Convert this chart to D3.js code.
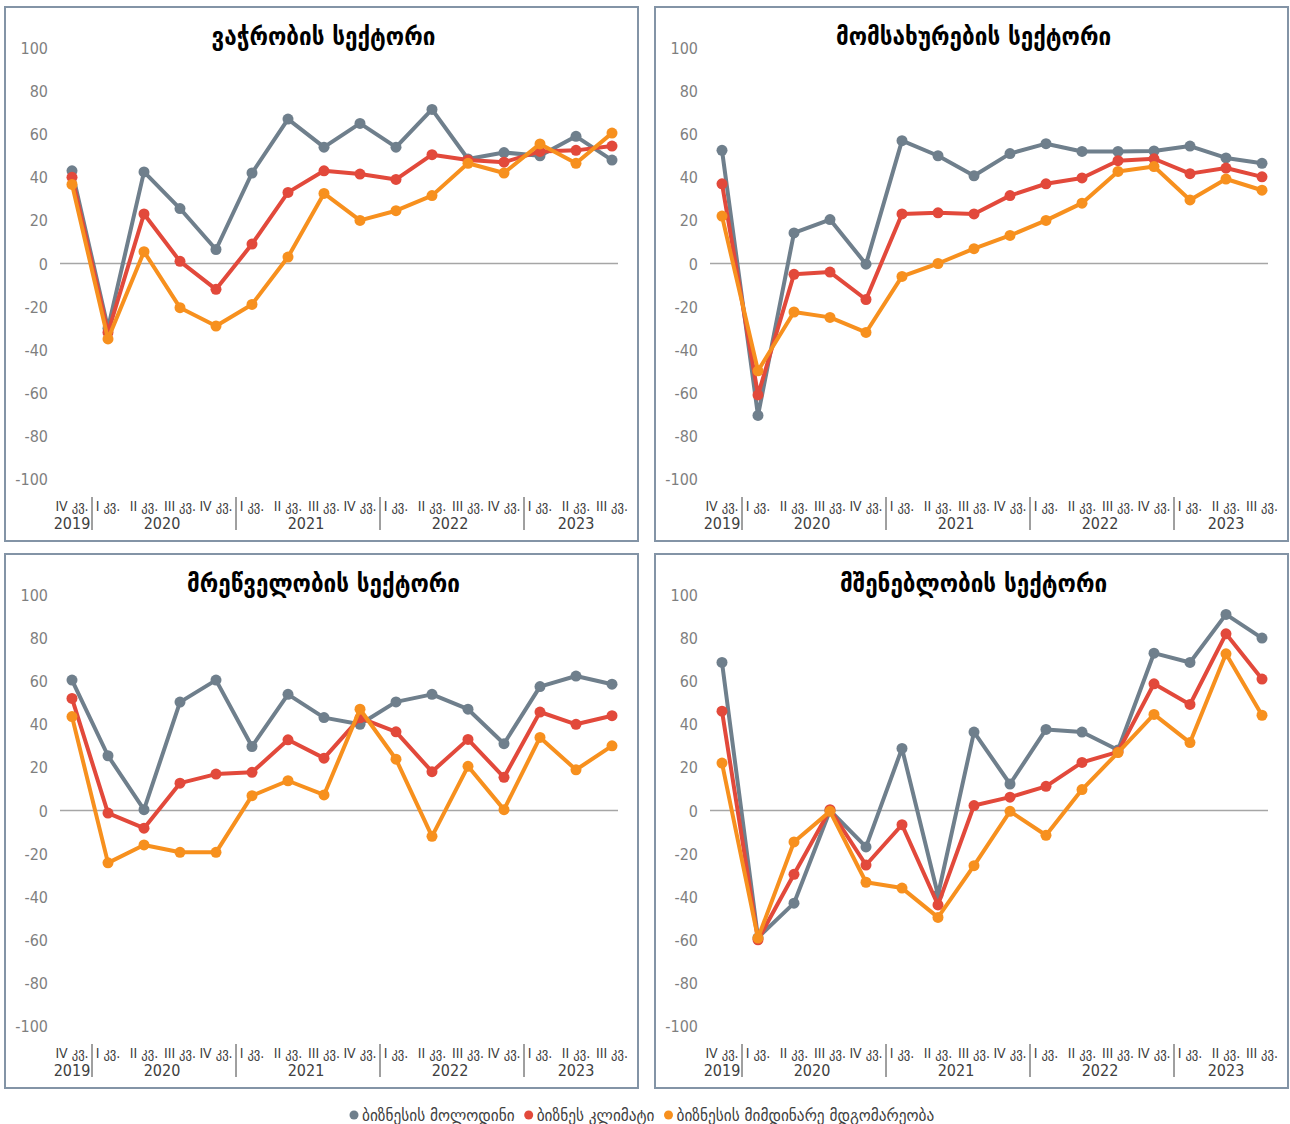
<!DOCTYPE html>
<html>
<head>
<meta charset="utf-8">
<script src="https://cdn.jsdelivr.net/npm/d3@7"></script>
<style>
	body { margin: 0; background: #fff; }
	svg { display: block; }
	.tick-y { font-family: "Liberation Sans Narrow", "DejaVu Sans Condensed", sans-serif; font-size: 16px; fill: #7f7f7f; }
	.cat { font-family: "Liberation Sans Narrow", "DejaVu Sans Condensed", sans-serif; font-size: 14px; fill: #404040; }
	.yr { font-family: "Liberation Sans Narrow", "DejaVu Sans Condensed", sans-serif; font-size: 16px; fill: #404040; }
	.title { font-family: "DejaVu Sans Condensed", "DejaVu Sans", sans-serif; font-size: 25px; font-weight: bold; fill: #000; }
	.legend { font-family: "DejaVu Sans Condensed", "DejaVu Sans", sans-serif; font-size: 17px; fill: #404040; }
</style>
</head>
<body>
<script>
// quarters shown on the x axis
const quarters = ["IV", "I", "II", "III", "IV", "I", "II", "III", "IV", "I", "II", "III", "IV", "I", "II", "III"];
const years = [{year: "2019", from: 0, to: 0}, {year: "2020", from: 1, to: 4}, {year: "2021", from: 5, to: 8},
	{year: "2022", from: 9, to: 12}, {year: "2023", from: 13, to: 15}];
const yTicks = [100, 80, 60, 40, 20, 0, -20, -40, -60, -80, -100];

const seriesNames = ["ბიზნესის მოლოდინი", "ბიზნეს კლიმატი", "ბიზნესის მიმდინარე მდგომარეობა"];
const seriesColors = ["#6f7f8c", "#e2493b", "#f7901e"];

const titles = ["ვაჭრობის სექტორი", "მომსახურების სექტორი", "მრეწველობის სექტორი", "მშენებლობის სექტორი"];

// trade
const tradeExpect = [43, -30, 42.5, 25.5, 6.5, 42, 67, 54, 65, 54, 71.5, 48.5, 51.5, 50, 59, 48];
const tradeClimate = [40, -32, 23, 1, -12, 9, 33, 43, 41.5, 39, 50.5, 48, 47, 52, 52.5, 54.5];
const tradeCurrent = [36.7, -35, 5.5, -20.5, -29, -19, 3, 32.5, 20, 24.5, 31.5, 46.5, 42, 55.5, 46.5, 60.5];

// services
const servExpect = [52.5, -70.5, 14.2, 20.4, -0.3, 57, 50, 40.7, 51, 55.6, 52, 52, 52.2, 54.5, 49, 46.5];
const servClimate = [37, -61, -5, -4, -16.7, 23, 23.5, 23, 31.5, 37, 39.7, 47.7, 48.6, 41.7, 44.3, 40.2];
const servCurrent = [22, -49.8, -22.5, -25, -32, -6, 0, 6.9, 13, 20, 28, 42.7, 45, 29.5, 39.2, 34];

// industry
const indExpect = [60.5, 25.4, 0.4, 50.3, 60.5, 29.7, 53.9, 43.1, 40, 50.4, 53.9, 47, 31, 57.5, 62.4, 58.6];
const indClimate = [52, -1.2, -8.2, 12.7, 16.9, 17.7, 32.8, 24.3, 43, 36.5, 18, 33, 15.4, 45.7, 40, 44];
const indCurrent = [43.6, -24.3, -16, -19.4, -19.4, 6.9, 13.8, 7.2, 47, 23.8, -12, 20.5, 0.4, 33.9, 18.9, 30];

// construction
const consExpect = [68.7, -59, -43, 0, -16.9, 28.8, -39.2, 36.4, 12.3, 37.6, 36.4, 28.1, 73, 68.7, 91, 80];
const consClimate = [46.1, -60, -29.6, 0.4, -25.3, -6.6, -43.8, 2.3, 6.2, 11.2, 22.3, 27.2, 58.8, 49.2, 82, 61];
const consCurrent = [22, -59.2, -14.6, -0.4, -33.3, -36, -49.6, -25.6, -0.4, -11.5, 9.7, 26.9, 44.6, 31.5, 72.7, 44.2];

const panelData = [
	[tradeExpect, tradeClimate, tradeCurrent],
	[servExpect, servClimate, servCurrent],
	[indExpect, indClimate, indCurrent],
	[consExpect, consClimate, consCurrent]
];

const W = 1290, H = 1124;
const panelW = 633, panelH = 534;
const panelPos = [[5, 7], [655, 7], [5, 554], [655, 554]];

const svg = d3.select("body").append("svg")
	.attr("width", W)
	.attr("height", H);

function drawPanel(idx) {
	const [px, py] = panelPos[idx];
	const g = svg.append("g")
		.attr("transform", "translate(" + px + "," + py + ")");

	g.append("rect")
		.attr("x", 0).attr("y", 0)
		.attr("width", panelW).attr("height", panelH)
		.attr("fill", "#fff")
		.attr("stroke", "#8394a6")
		.attr("stroke-width", 2);

	g.append("text")
		.attr("class", "title")
		.attr("x", panelW / 2 + 2)
		.attr("y", 38)
		.attr("text-anchor", "middle")
		.text(titles[idx]);

	const x = d3.scaleBand()
		.domain(d3.range(quarters.length))
		.range([49, 625]);
	const y = d3.scaleLinear()
		.domain([-100, 100])
		.range([472, 41]);
	const cx = (i) => x(i) + x.bandwidth() / 2;

	g.append("g").selectAll("text")
		.data(yTicks).enter()
		.append("text")
		.attr("class", "tick-y")
		.attr("x", 43)
		.attr("y", (d) => y(d) + 6)
		.attr("text-anchor", "end")
		.text((d) => d);

	g.append("line")
		.attr("x1", x.range()[0] + 6)
		.attr("x2", x.range()[1] - 12)
		.attr("y1", y(0)).attr("y2", y(0))
		.attr("stroke", "#a6a6a6")
		.attr("stroke-width", 1.5);

	// category labels
	const catG = g.append("g");
	catG.selectAll("text.cat")
		.data(quarters).enter()
		.append("text")
		.attr("class", "cat")
		.attr("x", (d, i) => cx(i))
		.attr("y", 504)
		.attr("text-anchor", "middle")
		.text((d) => d + " კვ.");
	catG.selectAll("text.yr")
		.data(years).enter()
		.append("text")
		.attr("class", "yr")
		.attr("x", (d) => (cx(d.from) + cx(d.to)) / 2)
		.attr("y", 522)
		.attr("text-anchor", "middle")
		.text((d) => d.year);
	catG.selectAll("line.sep")
		.data(years.slice(1)).enter()
		.append("line")
		.attr("class", "sep")
		.attr("x1", (d) => x(d.from) + 2)
		.attr("x2", (d) => x(d.from) + 2)
		.attr("y1", 490).attr("y2", 523)
		.attr("stroke", "#404040")
		.attr("stroke-width", 1);

	const line = d3.line()
		.x((d, i) => cx(i))
		.y((d) => y(d));

	panelData[idx].forEach((vals, s) => {
		g.append("path")
			.datum(vals)
			.attr("fill", "none")
			.attr("stroke", seriesColors[s])
			.attr("stroke-width", 4)
			.attr("stroke-linejoin", "round")
			.attr("d", line);
		g.append("g").selectAll("circle")
			.data(vals).enter()
			.append("circle")
			.attr("cx", (d, i) => cx(i))
			.attr("cy", (d) => y(d))
			.attr("r", 5.5)
			.attr("fill", seriesColors[s]);
	});
}

for (let i = 0; i < 4; i++) drawPanel(i);

// legend
const legend = svg.append("g").attr("transform", "translate(0,1115)");
let lx = 350;
seriesNames.forEach((name, s) => {
	legend.append("circle")
		.attr("cx", lx + 4)
		.attr("cy", 0)
		.attr("r", 4.5)
		.attr("fill", seriesColors[s]);
	const t = legend.append("text")
		.attr("class", "legend")
		.attr("x", lx + 12)
		.attr("y", 6)
		.text(name);
	lx += 12 + t.node().getComputedTextLength() + 10;
});
</script>
</body>
</html>
